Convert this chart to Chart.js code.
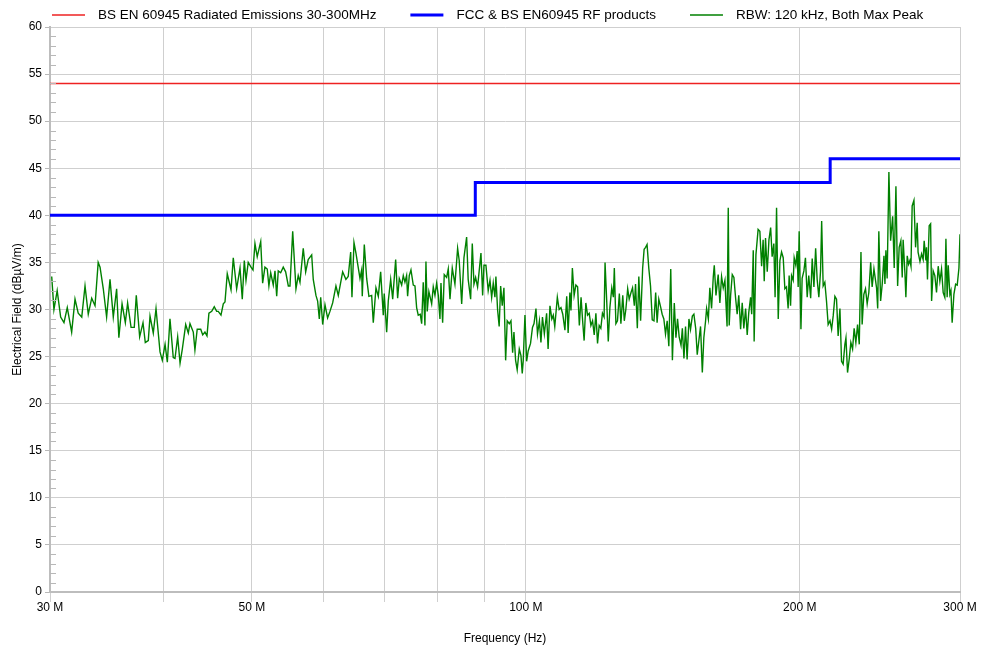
<!DOCTYPE html>
<html>
<head>
<meta charset="utf-8">
<title>Radiated Emissions</title>
<script src="https://cdn.jsdelivr.net/npm/chart.js@4.4.1/dist/chart.umd.min.js"></script>
<style>
  html, body { margin: 0; padding: 0; background: #fff; }
  #wrap { width: 984px; height: 653px; position: relative; }
</style>
</head>
<body>
<div id="wrap"><canvas id="emiChart"></canvas></div>
<script>
// ==========================================
// 1. Data
// ==========================================
const xGridFreqs = [30, 40, 50, 60, 70, 80, 90, 100, 200, 300];   // MHz, gridlines
const xLabelFreqs = [30, 50, 100, 200, 300];                       // MHz, labelled
const yTicks = [0, 5, 10, 15, 20, 25, 30, 35, 40, 45, 50, 55, 60];

// BS EN 60945 limit (dBuV/m)
const bsFreqs = [30, 300];
const bsLimit = [54, 54];

// FCC & BS EN60945 RF products limit, stepped
const fccFreqs = [30, 88, 88, 216, 216, 300];
const fccLimit = [40, 40, 43.5, 43.5, 46, 46];

// measured max peak trace
const scanFreqs = [
  30.13, 30.30, 30.55, 30.82, 31.08, 31.34, 31.69, 31.96, 32.22, 32.51,
  32.78, 33.05, 33.34, 33.62, 33.89, 34.05, 34.33, 34.62, 34.92, 35.21,
  35.51, 35.71, 36.00, 36.30, 36.51, 36.83, 37.13, 37.32, 37.64, 37.96,
  38.18, 38.47, 38.64, 38.96, 39.23, 39.63, 39.86, 40.14, 40.37, 40.64,
  40.98, 41.16, 41.44, 41.69, 41.93, 42.29, 42.57, 42.75, 43.11, 43.29,
  43.54, 43.93, 44.15, 44.40, 44.63, 44.85, 45.17, 45.46, 45.74, 45.92,
  46.24, 46.51, 46.71, 46.98, 47.43, 47.70, 48.11, 48.52, 48.80, 49.05,
  49.26, 49.54, 49.89, 50.14, 50.39, 50.68, 51.13, 51.38, 51.68, 51.98,
  52.20, 52.44, 52.78, 53.01, 53.24, 53.45, 53.78, 54.13, 54.46, 54.83,
  55.06, 55.44, 55.90, 56.22, 56.47, 56.94, 57.29, 57.66, 58.17, 58.40,
  58.80, 59.05, 59.30, 59.51, 59.81, 60.16, 60.56, 60.92, 61.34, 61.85,
  62.22, 62.91, 63.43, 63.80, 64.20, 64.41, 64.74, 65.06, 65.33, 65.73,
  66.01, 66.11, 66.45, 66.85, 67.23, 67.70, 67.98, 68.44, 68.85, 69.26,
  69.72, 69.89, 70.32, 70.61, 71.04, 71.40, 71.94, 72.30, 72.60, 73.04,
  73.34, 73.65, 73.96, 74.15, 74.46, 74.78, 75.22, 75.54, 75.86, 76.17,
  76.56, 76.83, 77.14, 77.47, 77.67, 77.92, 78.25, 78.80, 79.12, 79.46,
  79.80, 80.13, 80.47, 80.68, 81.02, 81.35, 81.84, 82.18, 82.54, 83.02,
  83.58, 84.15, 84.49, 85.02, 85.51, 86.09, 86.43, 86.97, 87.33, 87.70,
  88.07, 88.51, 88.87, 89.27, 89.65, 89.95, 90.40, 90.92, 91.33, 91.72,
  92.09, 92.48, 92.71, 93.10, 93.48, 93.83, 94.21, 94.61, 95.02, 95.40,
  95.90, 96.31, 96.72, 97.04, 97.45, 97.84, 98.36, 98.78, 99.10, 99.35,
  99.78, 100.2, 100.6, 101.2, 101.7, 102.1, 102.6, 103.0, 103.5, 103.9,
  104.3, 104.8, 105.4, 105.8, 106.3, 106.8, 107.2, 107.6, 108.3, 108.8,
  109.3, 109.8, 110.4, 110.9, 111.3, 111.8, 112.1, 112.5, 113.0, 113.5,
  114.0, 114.5, 115.0, 115.5, 115.9, 116.4, 116.9, 117.4, 117.9, 118.4,
  118.9, 119.4, 119.9, 120.4, 120.9, 121.4, 121.9, 122.2, 122.7, 123.2,
  123.7, 124.3, 124.8, 125.1, 125.6, 126.1, 126.7, 127.2, 127.8, 128.3,
  128.8, 129.4, 129.9, 130.5, 131.0, 131.6, 132.0, 132.6, 133.1, 133.7,
  134.4, 134.9, 135.4, 135.9, 136.5, 137.1, 137.7, 138.3, 138.9, 139.4,
  140.0, 140.7, 141.2, 141.8, 142.4, 143.0, 143.6, 144.3, 144.9, 145.6,
  146.2, 146.8, 147.4, 148.1, 148.6, 149.2, 149.8, 150.4, 151.1, 151.7,
  152.4, 153.0, 153.7, 154.3, 154.9, 155.6, 156.3, 156.9, 157.6, 158.0,
  158.7, 159.3, 160.0, 160.7, 161.1, 161.8, 162.7, 163.4, 164.1, 164.8,
  165.5, 165.9, 166.4, 166.9, 167.3, 167.9, 168.6, 169.3, 170.0, 170.7,
  171.4, 172.2, 172.9, 173.6, 174.4, 175.1, 175.8, 176.6, 177.1, 177.8,
  178.2, 179.0, 180.0, 180.8, 181.6, 182.3, 182.8, 183.4, 184.2, 185.0,
  185.8, 186.5, 187.3, 187.9, 188.6, 189.4, 190.2, 191.0, 191.8, 192.6,
  193.4, 194.2, 194.7, 195.4, 195.9, 196.7, 197.2, 198.0, 198.7, 199.2,
  199.7, 200.6, 201.2, 202.1, 202.9, 203.8, 204.6, 205.6, 206.4, 207.3,
  208.2, 209.0, 209.9, 210.8, 211.4, 212.2, 213.1, 214.0, 214.9, 215.9,
  216.8, 217.7, 218.6, 219.5, 220.4, 221.4, 222.3, 223.2, 224.2, 224.8,
  225.7, 226.7, 227.6, 228.6, 229.5, 230.5, 231.5, 232.5, 233.5, 234.2,
  235.2, 236.2, 237.2, 238.2, 239.3, 240.2, 241.3, 242.9, 243.6,
  244.3, 245.4, 246.4, 247.5, 248.1, 248.7, 249.5, 250.6, 251.7, 253.0,
  254.0, 255.1, 256.2, 257.2, 258.3, 259.2, 259.8, 261.0, 261.6, 262.5,
  263.4, 264.3, 265.0, 265.8, 267.0, 268.1, 269.2, 269.8, 271.1, 272.2,
  273.3, 274.0, 275.2, 275.6, 276.3, 277.5, 278.5, 279.2, 280.3, 281.5,
  282.7, 283.9, 285.1, 286.3, 287.5, 288.7, 289.5, 290.4, 291.2, 292.4,
  293.2, 294.1, 295.4, 296.7, 297.9, 299.2, 300.0
];
const scanLevels = [
  33.5, 30.0, 32.0, 29.2, 28.6, 30.2, 27.6, 31.1, 29.6, 29.2,
  32.5, 29.5, 31.2, 30.4, 35.0, 34.5, 32.2, 29.2, 33.2, 29.2,
  32.2, 27.0, 30.6, 28.6, 30.7, 28.1, 28.1, 31.5, 27.1, 28.6,
  26.5, 26.7, 29.3, 27.5, 30.1, 25.5, 24.6, 26.3, 24.4, 29.0,
  24.9, 24.8, 27.1, 24.3, 25.8, 28.4, 27.5, 28.5, 27.6, 25.7,
  27.9, 27.9, 27.3, 27.6, 27.2, 29.6, 29.8, 30.3, 29.8, 29.8,
  29.4, 30.6, 30.8, 33.8, 32.1, 35.5, 32.2, 34.4, 31.1, 35.2,
  33.1, 35.0, 34.5, 34.2, 37.0, 35.6, 37.2, 32.8, 34.5, 34.3,
  32.5, 33.9, 32.6, 34.1, 31.4, 34.1, 33.9, 34.5, 34.0, 32.5,
  32.5, 38.3, 32.2, 33.6, 32.9, 36.5, 34.0, 35.3, 35.8, 33.2,
  31.5, 30.9, 29.0, 31.3, 28.4, 30.5, 29.1, 29.8, 30.7, 32.5,
  31.5, 34.0, 33.2, 33.5, 36.1, 31.3, 37.1, 36.0, 34.9, 33.3,
  34.2, 31.4, 36.9, 33.3, 31.4, 31.5, 28.6, 32.3, 31.4, 34.0,
  29.4, 31.7, 27.6, 30.9, 33.2, 31.1, 35.3, 31.2, 33.3, 32.6,
  33.6, 32.9, 33.6, 31.4, 33.6, 34.2, 32.6, 32.5, 30.2, 29.4,
  29.5, 28.5, 32.9, 28.3, 35.1, 29.8, 31.9, 30.6, 32.4, 31.5,
  32.8, 31.5, 29.0, 32.8, 28.6, 33.7, 33.4, 34.3, 31.1, 34.4,
  32.7, 36.5, 35.2, 30.6, 35.5, 37.7, 33.2, 31.1, 37.0, 32.7,
  33.4, 32.4, 34.1, 36.0, 31.5, 34.7, 34.7, 32.0, 33.1, 31.3,
  32.8, 31.3, 33.5, 30.0, 28.2, 32.5, 30.4, 32.3, 24.6, 28.8,
  28.5, 28.8, 25.4, 27.6, 24.6, 23.6, 25.8, 25.1, 23.2, 24.6,
  29.4, 24.5, 25.6, 26.4, 28.1, 28.5, 30.1, 27.4, 28.8, 26.5,
  29.2, 27.4, 29.6, 25.8, 30.4, 29.0, 29.4, 28.2, 31.3, 30.0,
  30.2, 29.5, 27.8, 31.4, 27.5, 31.8, 29.9, 34.4, 31.5, 32.6,
  32.4, 28.3, 31.3, 28.6, 26.7, 30.7, 29.4, 29.6, 28.3, 28.8,
  27.3, 29.6, 26.4, 28.3, 28.0, 29.6, 29.2, 35.0, 31.0, 26.6,
  30.2, 32.3, 31.3, 34.4, 28.5, 28.8, 31.7, 28.5, 31.5, 28.8,
  30.0, 32.2, 31.1, 31.8, 32.3, 30.4, 32.7, 28.0, 33.5, 28.8,
  34.4, 36.4, 36.6, 36.9, 34.4, 32.5, 28.9, 28.8, 31.8, 28.6,
  31.1, 30.2, 29.5, 29.0, 27.4, 28.8, 26.1, 34.3, 24.6, 30.7,
  27.0, 29.0, 27.1, 26.2, 28.0, 24.8, 28.2, 24.7, 29.0, 27.9,
  29.3, 29.5, 28.0, 25.2, 26.6, 28.2, 23.3, 27.0, 28.8, 30.1,
  29.0, 32.3, 30.1, 33.5, 34.7, 31.5, 33.7, 30.7, 33.5, 32.3,
  33.1, 30.8, 28.2, 40.8, 28.3, 31.5, 33.7, 33.4, 31.3, 29.5,
  31.5, 27.9, 30.7, 28.0, 30.1, 27.3, 29.7, 31.3, 29.5, 36.3,
  26.6, 35.8, 38.5, 38.3, 34.6, 37.4, 33.0, 37.6, 34.0, 37.4,
  38.7, 35.6, 37.0, 31.3, 40.8, 29.0, 35.2, 36.1, 35.5, 32.2,
  32.4, 30.1, 33.6, 30.4, 33.6, 33.1, 35.5, 34.7, 36.2, 32.4,
  38.3, 27.9, 33.3, 34.1, 35.5, 31.3, 33.6, 31.2, 35.4, 32.4,
  36.5, 33.2, 31.3, 34.1, 39.4, 32.5, 32.9, 30.9, 28.4, 28.8,
  27.9, 29.4, 31.4, 31.1, 27.2, 30.1, 24.5, 24.2, 26.3, 27.0,
  23.3, 24.8, 26.5, 25.8, 28.0, 26.5, 28.4, 26.3, 36.1, 28.4,
  31.6, 32.2, 30.6, 31.8, 35.0, 32.4, 34.3, 32.3, 30.1,
  38.3, 30.9, 32.7, 35.7, 32.7, 36.3, 33.3, 44.6, 37.3, 39.9,
  34.4, 43.1, 32.5, 36.6, 37.3, 33.4, 37.4, 33.8, 31.3, 35.7,
  34.8, 35.2, 34.6, 41.0, 41.6, 36.6, 39.2, 36.1, 35.1, 35.9,
  35.3, 37.3, 35.2, 36.6, 33.2, 38.9, 39.1, 30.9, 34.1, 33.6,
  31.8, 34.6, 33.0, 34.3, 31.8, 31.3, 37.5, 31.3, 34.7, 31.6,
  32.0, 28.6, 31.6, 32.7, 32.6, 34.4, 38.0
];

// ==========================================
// 2. Helpers
// ==========================================
const toPoints = (xs, ys) => xs.map((x, i) => ({ x: x, y: ys[i] }));
const FONT = "'Liberation Sans', Arial, sans-serif";
const GRID = '#cfcfcf';

// legend drawn as line samples like the original plot
const lineLegend = {
    id: 'lineLegend',
    afterDraw(chart) {
        const ctx = chart.ctx;
        ctx.save();
        ctx.font = '13.5px ' + FONT;
        ctx.textBaseline = 'middle';
        let x = 52;
        const y = 15;
        chart.data.datasets.forEach(ds => {
            ctx.strokeStyle = ds.borderColor;
            ctx.lineWidth = ds.borderWidth;
            ctx.beginPath();
            ctx.moveTo(x, y);
            ctx.lineTo(x + 33, y);
            ctx.stroke();
            ctx.fillStyle = '#000';
            ctx.fillText(ds.label, x + 46, y);
            x += 46 + ctx.measureText(ds.label).width + 34;
        });
        ctx.restore();
    }
};

// small 1 dB ticks on the inside of the y axis
const minorTicks = {
    id: 'minorTicks',
    afterDatasetsDraw(chart) {
        const y = chart.scales.y;
        const ctx = chart.ctx;
        ctx.save();
        ctx.strokeStyle = '#b8b8b8';
        ctx.lineWidth = 1;
        for (let v = y.min; v <= y.max; v++) {
            if (v % 5 === 0) continue;
            const py = Math.round(y.getPixelForValue(v)) + 0.5;
            ctx.beginPath();
            ctx.moveTo(chart.chartArea.left, py);
            ctx.lineTo(chart.chartArea.left + 6, py);
            ctx.stroke();
        }
        ctx.restore();
    }
};

// ==========================================
// 3. Chart
// ==========================================
new Chart(document.getElementById('emiChart'), {
    type: 'line',
    data: {
        datasets: [
            { label: 'BS EN 60945 Radiated Emissions 30-300MHz', data: toPoints(bsFreqs, bsLimit), borderColor: '#ee2222', borderWidth: 1.5 },
            { label: 'FCC & BS EN60945 RF products', data: toPoints(fccFreqs, fccLimit), borderColor: '#0000ff', borderWidth: 3 },
            { label: 'RBW: 120 kHz, Both Max Peak', data: toPoints(scanFreqs, scanLevels), borderColor: '#008000', borderWidth: 1.4 }
        ]
    },
    options: {
        responsive: true,
        maintainAspectRatio: false,
        animation: false,
        parsing: false,
        elements: { point: { radius: 0 }, line: { tension: 0 } },
        layout: { padding: { top: 27, right: 24, left: 0, bottom: 0 } },
        plugins: { legend: { display: false }, tooltip: { enabled: false } },
        scales: {
            x: {
                type: 'logarithmic',
                min: 30,
                max: 300,
                afterBuildTicks: s => { s.ticks = xGridFreqs.map(v => ({ value: v })); },
                afterFit: s => { s.height = 61; },
                grid: { color: GRID, tickLength: 10, tickColor: GRID },
                border: { color: '#bdbdbd', width: 2 },
                ticks: {
                    autoSkip: false, maxRotation: 0, padding: -2,
                    color: '#000', font: { family: FONT, size: 12 },
                    callback: v => xLabelFreqs.includes(v) ? v + ' M' : ''
                },
                title: { display: true, text: 'Frequency (Hz)', color: '#000', font: { family: FONT, size: 12 }, padding: { top: 0, bottom: 7 } }
            },
            y: {
                min: 0,
                max: 60,
                afterBuildTicks: s => { s.ticks = yTicks.map(v => ({ value: v })); },
                afterFit: s => { s.width = 50; },
                grid: { color: GRID, tickLength: 5, tickColor: '#b8b8b8' },
                border: { color: '#bdbdbd', width: 2 },
                ticks: { padding: 3, color: '#000', font: { family: FONT, size: 12 } },
                title: { display: true, text: 'Electrical Field (dBµV/m)', color: '#000', font: { family: FONT, size: 12 }, padding: { top: 10, bottom: 0 } }
            }
        }
    },
    plugins: [lineLegend, minorTicks]
});
</script>
</body>
</html>
